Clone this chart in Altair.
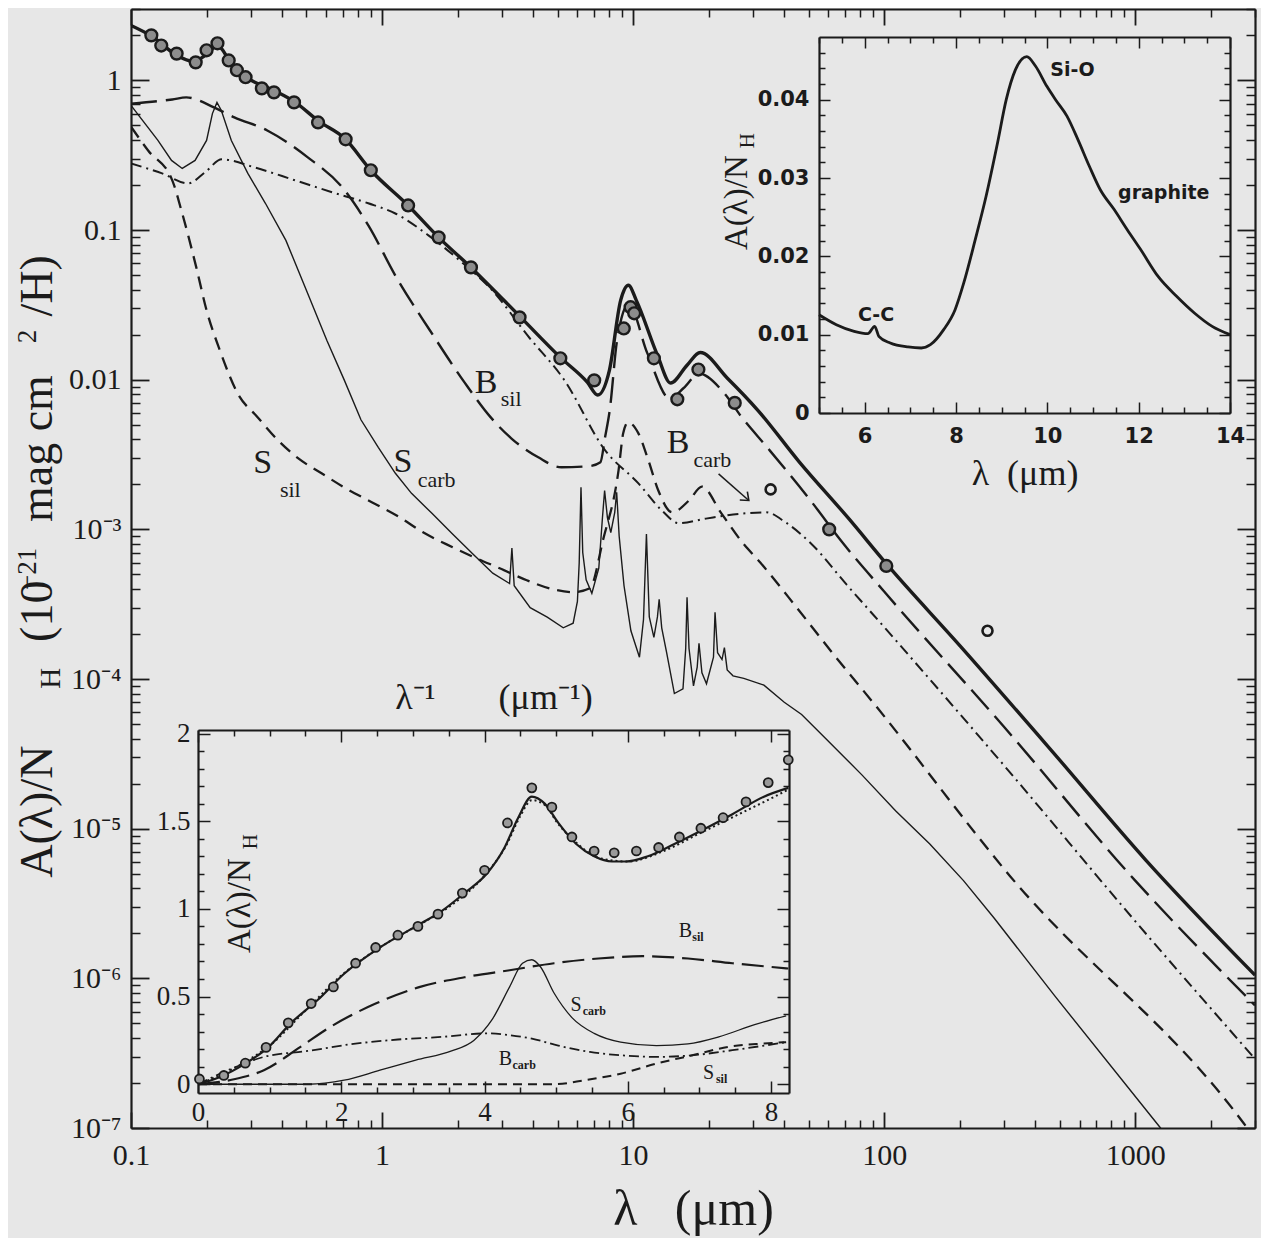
import json
import altair as alt
import pandas as pd

W, H = 1124, 1119
INK = "#1b1b1b"
BG = "#e7e7e7"
SERIF = "Liberation Serif"
SANSB = "DejaVu Sans"
NB = "\u00a0"

# ---------------- main panel: A(lambda)/N_H vs lambda ----------------
tot_lam = [0.1, 0.123, 0.152, 0.177, 0.198, 0.221, 0.247, 0.286, 0.371, 0.446, 0.561, 0.709, 0.902,
           1.27, 1.68, 2.26, 3.53, 5.13, 6.58, 7.23, 8.05, 8.92, 9.58, 10.3, 12.5, 14.1, 16.4, 18.5,
           23.8, 31.4, 45.7, 72.6, 102, 201, 466, 1104, 3000]
tot_val = [2.33, 1.94, 1.47, 1.34, 1.47, 1.71, 1.36, 1.06, 0.858, 0.724, 0.532, 0.410, 0.251,
           0.146, 0.0894, 0.0563, 0.0266, 0.0141, 0.0096, 0.0079, 0.0116, 0.0339, 0.0428, 0.0339,
           0.0146, 0.0095, 0.0125, 0.0152, 0.0102, 6.25e-3, 2.85e-3, 1.17e-3, 5.9e-4, 1.66e-4,
           3.3e-5, 6.15e-6, 1.05e-6]

bsil_lam = [0.1, 0.146, 0.166, 0.214, 0.258, 0.349, 0.506, 0.694, 0.883, 1.14, 1.55, 2.13, 2.71, 3.27,
            4.19, 5.18, 6.64, 7.41, 7.73, 8.07, 8.63, 9.6, 11.4, 14.0, 15.9, 18.3, 23.1, 26.9, 34.5,
            51.5, 68.1, 100, 300, 1000, 3000]
bsil_val = [0.70, 0.746, 0.77, 0.66, 0.566, 0.463, 0.306, 0.193, 0.107, 0.0483, 0.0214, 9.6e-3, 5.6e-3,
            4.06e-3, 3.03e-3, 2.60e-3, 2.64e-3, 2.81e-3, 4.12e-3, 6.25e-3, 0.0183, 0.032, 0.0150, 7.5e-3,
            8.8e-3, 0.0110, 8.1e-3, 5.7e-3, 3.47e-3, 1.52e-3, 8.2e-4, 3.84e-4, 4.8e-5, 4.5e-6, 6.6e-7]

bcarb_lam = [0.1, 0.133, 0.169, 0.197, 0.230, 0.311, 0.450, 0.632, 0.881, 1.13, 1.53, 2.10, 2.68, 3.87,
             5.31, 7.74, 10.5, 13.0, 15.2, 19.5, 26.4, 33.8, 40.6, 51.7, 70.9, 90.3, 300, 1000, 3000]
bcarb_val = [0.279, 0.239, 0.205, 0.243, 0.297, 0.262, 0.215, 0.179, 0.151, 0.129, 0.0922, 0.060, 0.0414,
             0.019, 0.0100, 3.37e-3, 2.03e-3, 1.34e-3, 1.10e-3, 1.18e-3, 1.27e-3, 1.30e-3, 1.11e-3,
             7.9e-4, 4.27e-4, 2.7e-4, 2.65e-5, 2.41e-6, 2.9e-7]

ssil_lam = [0.1, 0.117, 0.146, 0.160, 0.182, 0.200, 0.226, 0.266, 0.320, 0.385, 0.464, 0.574, 0.717,
            0.910, 1.17, 1.45, 1.91, 2.38, 2.94, 3.77, 4.79, 5.75, 6.73, 7.59, 8.75, 9.13, 9.55, 10.5,
            11.5, 12.6, 14.3, 16.7, 18.8, 22.4, 27.2, 32.1, 45.0, 62.9, 91.4, 318, 2700, 3000]
ssil_val = [0.49, 0.340, 0.215, 0.129, 0.0563, 0.0291, 0.0157, 8.1e-3, 5.6e-3, 3.94e-3, 2.98e-3, 2.37e-3,
            1.88e-3, 1.52e-3, 1.21e-3, 9.6e-4, 7.6e-4, 6.4e-4, 5.5e-4, 4.57e-4, 3.98e-4, 3.80e-4, 4.04e-4,
            8.5e-4, 2.48e-3, 4.38e-3, 5.19e-3, 4.38e-3, 2.9e-3, 1.82e-3, 1.30e-3, 1.56e-3, 1.93e-3,
            1.29e-3, 8.2e-4, 6.0e-4, 2.98e-4, 1.46e-4, 6.8e-5, 4.8e-6, 1.08e-7, 8.5e-8]

scarb_lam = [0.1, 0.128, 0.145, 0.160, 0.180, 0.200, 0.211, 0.220, 0.229, 0.251, 0.292, 0.343, 0.414,
             0.500, 0.603, 0.708, 0.824, 0.966, 1.13, 1.31, 1.58, 1.90, 2.29, 2.76, 3.22, 3.29, 3.36,
             3.89, 4.55, 5.27, 5.77, 6.0, 6.1, 6.2, 6.3, 6.5, 6.85, 7.3, 7.55, 7.7, 7.9, 8.15, 8.45,
             8.6, 8.8, 9.2, 9.8, 10.6, 11.0, 11.3, 11.6, 12.1, 12.5, 12.7, 13.0, 13.6, 14.6, 15.8,
             16.2, 16.4, 16.7, 17.4, 18.0, 18.3, 18.8, 19.6, 20.9, 21.2, 21.7, 22.6, 23.1, 23.7, 25.0,
             27.6, 33.2, 40.0, 46.9, 60.1, 81.7, 111, 152, 207, 274, 479, 1250, 3000]
scarb_val = [0.68, 0.397, 0.292, 0.258, 0.292, 0.397, 0.60, 0.713, 0.63, 0.397, 0.239, 0.151, 0.0853,
             0.0395, 0.0183, 9.9e-3, 5.4e-3, 3.53e-3, 2.37e-3, 1.74e-3, 1.28e-3, 9.4e-4, 6.9e-4, 5.1e-4,
             4.35e-4, 7.5e-4, 4.2e-4, 3.0e-4, 2.59e-4, 2.2e-4, 2.36e-4, 3.3e-4, 6.0e-4, 1.91e-3, 7.0e-4,
             4.6e-4, 3.74e-4, 5.5e-4, 1.2e-3, 1.82e-3, 1.2e-3, 9.5e-4, 1.3e-3, 1.77e-3, 9.0e-4, 4.2e-4,
             2.1e-4, 1.4e-4, 2.5e-4, 9.3e-4, 2.6e-4, 1.9e-4, 2.6e-4, 3.41e-4, 2.2e-4, 1.5e-4, 8.0e-5,
             8.6e-5, 1.6e-4, 3.52e-4, 1.6e-4, 9.0e-5, 1.2e-4, 1.73e-4, 1.1e-4, 9.3e-5, 1.4e-4, 2.79e-4,
             1.5e-4, 1.35e-4, 1.62e-4, 1.15e-4, 1.05e-4, 1.01e-4, 9.1e-5, 7.0e-5, 5.8e-5, 3.83e-5,
             2.28e-5, 1.32e-5, 7.9e-6, 4.5e-6, 2.53e-6, 7.6e-7, 1.02e-7, 1.4e-8]

obs_lam = [0.1205, 0.132, 0.152, 0.181, 0.200, 0.221, 0.245, 0.264, 0.286, 0.332, 0.371, 0.446, 0.556,
           0.716, 0.902, 1.27, 1.68, 2.26, 3.53, 5.13, 7.0, 9.18, 9.77, 10.1, 12.1, 15.0, 18.2, 25.4,
           60.4, 102]
obs_val = [2.0, 1.71, 1.51, 1.32, 1.59, 1.77, 1.36, 1.17, 1.05, 0.885, 0.832, 0.713, 0.524, 0.404,
           0.251, 0.146, 0.0894, 0.0563, 0.0261, 0.0139, 0.0099, 0.0220, 0.0305, 0.0278, 0.0139,
           0.0074, 0.0117, 0.0070, 1.0e-3, 5.7e-4]
obs2_lam = [35.3, 258]
obs2_val = [1.85e-3, 2.1e-4]

# curve labels (main panel)
lab_big_txt = ["B", "S", "S", "B"]
lab_big_x = [2.34, 1.11, 0.307, 13.6]
lab_big_y = [8.2e-3, 2.42e-3, 2.38e-3, 3.24e-3]
lab_sub_txt = ["sil", "carb", "sil", "carb"]
lab_sub_x = [2.97, 1.387, 0.392, 17.4]
lab_sub_y = [6.7e-3, 1.92e-3, 1.65e-3, 2.62e-3]
arrow_lam = [21.9, 28.9]
arrow_val = [2.35e-3, 1.56e-3]

# y-axis title pieces (rotated)
yt_big_txt = ["A(λ)/N", "(10", "mag cm", "/H)"]
yt_big_y = [4.7e-6, 1.77e-4, 1.12e-3, 0.0265]
yt_sub_txt = ["H"]
yt_sub_y = [8.6e-5]
yt_sup_txt = ["−21", "2"]
yt_sup_y = [3.94e-4, 0.0175]
yt_x_base, yt_x_sub, yt_x_sup = 0.0484, 0.0521, 0.0419

x_major = [0.1, 1, 10, 100, 1000]
x_major_lab = ["0.1", "1", "10", "100", "1000"]
y_major = [1e-7, 1e-6, 1e-5, 1e-4, 1e-3, 0.01, 0.1, 1]
y_major_lab = ["10⁻⁷", "10⁻⁶", "10⁻⁵", "10⁻⁴", "10⁻³", "0.01", "0.1", "1"]

# ---------------- inset 1 (top right): 5-14 um ----------------
in1_lam = [5.0, 5.38, 5.77, 6.07, 6.22, 6.31, 6.56, 6.95, 7.24, 7.44, 7.73, 7.98, 8.17, 8.42, 8.66,
           8.91, 9.10, 9.30, 9.55, 9.74, 9.99, 10.18, 10.43, 10.67, 10.92, 11.16, 11.46, 11.75, 12.04,
           12.43, 12.83, 13.22, 13.61, 14.0]
in1_val = [0.01255, 0.01128, 0.01043, 0.01013, 0.01106, 0.00979, 0.00894, 0.00843, 0.0083, 0.00872,
           0.01064, 0.01319, 0.0166, 0.0221, 0.0277, 0.0345, 0.0400, 0.0438, 0.0455, 0.0443, 0.0417,
           0.0400, 0.0379, 0.0349, 0.0315, 0.0285, 0.0260, 0.0234, 0.0209, 0.0174, 0.0149, 0.01277,
           0.01106, 0.0100]
in1_lab_txt = ["Si-O", "graphite", "C-C"]
in1_lab_x = [10.55, 12.55, 6.25]
in1_lab_y = [0.0438, 0.0281, 0.0125]
in1_x_major = [6, 8, 10, 12, 14]
in1_y_major = [0, 0.01, 0.02, 0.03, 0.04]
in1_y_lab = ["0", "0.01", "0.02", "0.03", "0.04"]

# ---------------- inset 2 (bottom left): vs 1/lambda ----------------
tot2_x = [0, 0.3, 0.67, 0.98, 1.30, 1.67, 2.04, 2.54, 3.04, 3.41, 3.72, 4.03, 4.28, 4.47, 4.66, 4.84,
          5.03, 5.28, 5.53, 5.78, 5.97, 6.28, 6.65, 7.09, 7.46, 7.90, 8.24]
tot2_y = [0, 0.04, 0.12, 0.21, 0.35, 0.48, 0.63, 0.78, 0.90, 0.99, 1.09, 1.20, 1.35, 1.52, 1.64, 1.60,
          1.49, 1.37, 1.30, 1.27, 1.27, 1.30, 1.37, 1.46, 1.54, 1.64, 1.69]
dot2_x = [0, 0.3, 0.67, 1.0, 1.5, 2.0, 2.5, 3.0, 3.5, 4.0, 4.3, 4.5, 4.66, 4.85, 5.0, 5.3, 5.6, 6.0,
          6.5, 7.0, 7.5, 8.0, 8.24]
dot2_y = [0, 0.05, 0.13, 0.22, 0.42, 0.62, 0.77, 0.89, 1.01, 1.19, 1.36, 1.53, 1.62, 1.59, 1.50, 1.37,
          1.29, 1.27, 1.33, 1.43, 1.53, 1.63, 1.68]
obs2_x = [0.02, 0.36, 0.66, 0.95, 1.26, 1.58, 1.89, 2.20, 2.48, 2.79, 3.07, 3.35, 3.69, 4.00, 4.32,
          4.66, 4.94, 5.22, 5.53, 5.81, 6.12, 6.43, 6.72, 7.02, 7.33, 7.65, 7.96, 8.24]
obs2_y = [0.03, 0.05, 0.12, 0.21, 0.35, 0.46, 0.555, 0.69, 0.78, 0.85, 0.90, 0.97, 1.09, 1.22, 1.49,
          1.69, 1.58, 1.41, 1.33, 1.32, 1.33, 1.35, 1.41, 1.46, 1.52, 1.61, 1.72, 1.85]
bsil2_x = [0, 0.3, 0.52, 0.92, 1.42, 1.86, 2.48, 3.10, 3.72, 4.35, 4.97, 5.59, 6.21, 6.84, 7.46, 8.24]
bsil2_y = [0, 0.013, 0.03, 0.08, 0.21, 0.33, 0.46, 0.555, 0.61, 0.65, 0.69, 0.717, 0.73, 0.717, 0.69,
           0.66]
scarb2_x = [0, 1.54, 2.04, 2.54, 3.04, 3.54, 3.85, 4.10, 4.35, 4.53, 4.66, 4.78, 4.97, 5.22, 5.53, 5.90,
            6.40, 6.84, 7.27, 7.77, 8.21]
scarb2_y = [0, 0, 0.023, 0.08, 0.137, 0.19, 0.25, 0.365, 0.555, 0.69, 0.71, 0.67, 0.52, 0.38, 0.29,
            0.24, 0.22, 0.23, 0.27, 0.34, 0.39]
bcarb2_x = [0, 0.42, 0.92, 1.54, 2.17, 2.79, 3.41, 4.03, 4.35, 4.66, 5.03, 5.47, 5.90, 6.40, 6.90, 7.46,
            7.90, 8.21]
bcarb2_y = [0, 0.08, 0.156, 0.19, 0.23, 0.255, 0.27, 0.29, 0.28, 0.26, 0.22, 0.184, 0.165, 0.156,
            0.165, 0.194, 0.22, 0.24]
ssil2_x = [0, 4.97, 5.40, 5.90, 6.40, 6.90, 7.40, 7.90, 8.21]
ssil2_y = [0, 0, 0.023, 0.06, 0.118, 0.165, 0.213, 0.232, 0.24]
in2_big_txt = ["B", "S", "B", "S"]
in2_big_x = [6.71, 5.2, 4.2, 7.05]
in2_big_y = [0.84, 0.42, 0.11, 0.03]
in2_sub_txt = ["sil", "carb", "carb", "sil"]
in2_sub_x = [6.90, 5.37, 4.39, 7.23]
in2_sub_y = [0.815, 0.395, 0.085, 0.005]
in2_x_major = [0, 2, 4, 6, 8]
in2_y_major = [0, 0.5, 1, 1.5, 2]
in2_y_lab = ["0", "0.5", "1", "1.5", "2"]

# ---------------- scales ----------------
MXS = alt.Scale(type="log", domain=[0.1, 3000], nice=False)
MYS = alt.Scale(type="log", domain=[1e-7, 3], nice=False)
I1L, I1R, I1T, I1B = 688, 1099, 28, 404
I1XS = alt.Scale(domain=[5, 14], range=[I1L, I1R], nice=False, zero=False)
I1YS = alt.Scale(domain=[0, 0.048], range=[I1B, I1T], nice=False, zero=False)
I2L, I2R, I2T, I2B = 67, 658, 721, 1084
I2XS = alt.Scale(domain=[0, 8.25], range=[I2L, I2R], nice=False, zero=False)
I2YS = alt.Scale(domain=[-0.05, 2.02], range=[I2B, I2T], nice=False, zero=False)


def enc(xs, ys):
    return dict(x=alt.X("x:Q", scale=xs, axis=None), y=alt.Y("y:Q", scale=ys, axis=None))


def line(xv, yv, xs, ys, width, dash=None, interp="monotone"):
    df = pd.DataFrame({"x": xv, "y": yv, "i": list(range(len(xv)))})
    kw = dict(color=INK, strokeWidth=width, clip=True, interpolate=interp, strokeCap="butt")
    if dash:
        kw["strokeDash"] = dash
    return alt.Chart(df).mark_line(**kw).encode(order="i:Q", **enc(xs, ys))


def pts(xv, yv, xs, ys, size, fill, sw):
    df = pd.DataFrame({"x": xv, "y": yv})
    return alt.Chart(df).mark_point(shape="circle", filled=True, fill=fill, stroke=INK,
                                    strokeWidth=sw, size=size, opacity=1).encode(**enc(xs, ys))


def texts(tv, xv, yv, xs, ys, size, font=SERIF, angle=0, weight="normal", align="left",
          baseline="alphabetic"):
    df = pd.DataFrame({"t": tv, "x": xv, "y": yv})
    return alt.Chart(df).mark_text(font=font, fontSize=size, angle=angle, fontWeight=weight,
                                   align=align, baseline=baseline, color=INK).encode(
        text="t:N", **enc(xs, ys))


def ax(orient, offset, values, tick=0, labels=False, domain=False, tw=1.5, **kw):
    d = dict(orient=orient, offset=offset, values=values, grid=False, labels=labels, domain=domain,
             title=None, domainColor=INK, domainWidth=2.2, labelColor=INK, labelOverlap=False,
             labelFlush=False)
    if tick > 0:
        d.update(ticks=True, tickSize=tick, tickWidth=tw, tickColor=INK)
    else:
        d.update(ticks=False)
    d.update(kw)
    return alt.Axis(**d)


def axis_layer(xs, ys, x0, y0, xaxis, yaxis):
    df = pd.DataFrame({"x": [x0], "y": [y0]})
    return alt.Chart(df).mark_point(opacity=0).encode(
        x=alt.X("x:Q", scale=xs, axis=xaxis), y=alt.Y("y:Q", scale=ys, axis=yaxis))


def minors(decades, ks, lo, hi):
    return [k * 10 ** d for d in decades for k in ks if lo < k * 10 ** d < hi]


x_minor = minors(range(-1, 4), range(2, 10), 0.1, 3001)
y_minor = minors(range(-7, 1), range(2, 10), 1e-7, 3.01)
xlab_expr = json.dumps(x_major_lab, ensure_ascii=False) + "[round(log(datum.value)/LN10)+1]"
ylab_expr = json.dumps(y_major_lab, ensure_ascii=False) + "[round(log(datum.value)/LN10)+7]"

layers = []
# ---- main axes / frame ----
layers.append(axis_layer(MXS, MYS, 1, 1,
    ax("bottom", 0, x_major, labels=True, domain=True, labelExpr=xlab_expr, labelFont=SERIF,
       labelFontSize=30, labelPadding=12, title="λ" + NB * 3 + "(μm)", titleFont=SERIF,
       titleFontSize=50, titleFontWeight="normal", titleColor=INK, titlePadding=14),
    ax("left", 0, y_major, labels=True, domain=True, labelExpr=ylab_expr, labelFont=SERIF,
       labelFontSize=30, labelPadding=10)))
layers.append(axis_layer(MXS, MYS, 1, 1, ax("top", -H, x_major, tick=16, tw=1.8),
                         ax("right", -W, y_major, tick=18, tw=1.8)))
layers.append(axis_layer(MXS, MYS, 1, 1, ax("top", -H, x_minor, tick=8),
                         ax("right", -W, y_minor, tick=9)))
layers.append(axis_layer(MXS, MYS, 1, 1, ax("bottom", -H, x_major, tick=16, domain=True, tw=1.8),
                         ax("left", -W, y_major, tick=18, domain=True, tw=1.8)))
layers.append(axis_layer(MXS, MYS, 1, 1, ax("bottom", -H, x_minor, tick=8),
                         ax("left", -W, y_minor, tick=9)))

# ---- main curves ----
layers.append(line(ssil_lam, ssil_val, MXS, MYS, 2.3, dash=[13, 8]))
layers.append(line(bcarb_lam, bcarb_val, MXS, MYS, 2.0, dash=[11, 5, 2, 5]))
layers.append(line(bsil_lam, bsil_val, MXS, MYS, 2.4, dash=[26, 9]))
layers.append(line(scarb_lam, scarb_val, MXS, MYS, 1.4, interp="linear"))
layers.append(line(tot_lam, tot_val, MXS, MYS, 3.4))
layers.append(pts(obs_lam, obs_val, MXS, MYS, 140, "#8c8c8c", 2.4))
layers.append(pts(obs2_lam, obs2_val, MXS, MYS, 100, BG, 2.6))
layers.append(line(arrow_lam, arrow_val, MXS, MYS, 1.5, interp="linear"))
layers.append(alt.Chart(pd.DataFrame({"x": arrow_lam[1:], "y": arrow_val[1:]})).mark_point(
    shape="M-1,-0.8L0,0L-1,0.8", filled=False, stroke=INK, strokeWidth=1.6, size=200, angle=42,
    opacity=1).encode(**enc(MXS, MYS)))
layers.append(texts(lab_big_txt, lab_big_x, lab_big_y, MXS, MYS, 34))
layers.append(texts(lab_sub_txt, lab_sub_x, lab_sub_y, MXS, MYS, 22))
# y title (rotated pieces)
layers.append(texts(yt_big_txt, [yt_x_base] * len(yt_big_txt), yt_big_y, MXS, MYS, 46, angle=270))
layers.append(texts(yt_sub_txt, [yt_x_sub] * len(yt_sub_txt), yt_sub_y, MXS, MYS, 29, angle=270))
layers.append(texts(yt_sup_txt, [yt_x_sup] * len(yt_sup_txt), yt_sup_y, MXS, MYS, 27, angle=270))

# ---- inset 1 ----
i1_xmin = [v / 2 for v in range(10, 29) if v / 2 not in in1_x_major]
i1_ymin = [round(v * 0.002, 3) for v in range(1, 24) if v % 5 != 0]
i1_ylab = json.dumps(in1_y_lab) + "[round(datum.value*100)]"
layers.append(axis_layer(I1XS, I1YS, 6, 0.01,
    ax("bottom", I1B - H, in1_x_major, labels=True, domain=True, labelFont=SANSB, labelFontSize=21,
       labelFontWeight="bold", labelPadding=12, title="λ" + NB * 2 + "(μm)", titleFont=SERIF,
       titleFontSize=36, titleFontWeight="normal", titleColor=INK, titlePadding=10),
    ax("left", -I1L, in1_y_major, labels=True, domain=True, labelExpr=i1_ylab, labelFont=SANSB,
       labelFontSize=21, labelFontWeight="bold", labelPadding=10)))
layers.append(axis_layer(I1XS, I1YS, 6, 0.01, ax("top", -I1B, in1_x_major, tick=11),
                         ax("right", I1L - W, in1_y_major, tick=11)))
layers.append(axis_layer(I1XS, I1YS, 6, 0.01, ax("top", -I1B, i1_xmin, tick=6),
                         ax("right", I1L - W, i1_ymin, tick=6)))
layers.append(axis_layer(I1XS, I1YS, 6, 0.01, ax("bottom", I1T - H, in1_x_major, tick=11, domain=True),
                         ax("left", -I1R, in1_y_major, tick=11, domain=True)))
layers.append(axis_layer(I1XS, I1YS, 6, 0.01, ax("bottom", I1T - H, i1_xmin, tick=6),
                         ax("left", -I1R, i1_ymin, tick=6)))
layers.append(line(in1_lam, in1_val, I1XS, I1YS, 2.8))
layers.append(texts(in1_lab_txt, in1_lab_x, in1_lab_y, I1XS, I1YS, 19, font=SANSB, weight="bold",
                    align="center", baseline="middle"))
layers.append(texts(["A(λ)/N"], [3.42], [0.0208], I1XS, I1YS, 33, angle=270))
layers.append(texts(["H"], [3.58], [0.0338], I1XS, I1YS, 21, angle=270))

# ---- inset 2 ----
i2_xmin = [v / 2 for v in range(1, 17) if v % 4 != 0]
i2_ymin = [round(v * 0.1, 1) for v in range(1, 20) if v % 5 != 0]
i2_ylab = json.dumps(in2_y_lab) + "[round(datum.value*2)]"
layers.append(axis_layer(I2XS, I2YS, 1, 1,
    ax("bottom", I2B - H, in2_x_major, labels=True, domain=True, labelFont=SERIF, labelFontSize=27,
       labelPadding=6),
    ax("left", -I2L, in2_y_major, labels=True, domain=True, labelExpr=i2_ylab, labelFont=SERIF,
       labelFontSize=27, labelPadding=8)))
layers.append(axis_layer(I2XS, I2YS, 1, 1, ax("top", -I2B, in2_x_major, tick=12),
                         ax("right", I2L - W, in2_y_major, tick=12)))
layers.append(axis_layer(I2XS, I2YS, 1, 1, ax("top", -I2B, i2_xmin, tick=6),
                         ax("right", I2L - W, i2_ymin, tick=6)))
layers.append(axis_layer(I2XS, I2YS, 1, 1, ax("bottom", I2T - H, in2_x_major, tick=12, domain=True),
                         ax("left", -I2R, in2_y_major, tick=12, domain=True)))
layers.append(axis_layer(I2XS, I2YS, 1, 1, ax("bottom", I2T - H, i2_xmin, tick=6),
                         ax("left", -I2R, i2_ymin, tick=6)))
layers.append(axis_layer(I2XS, I2YS, 1, 1,
    ax("top", -I2T, in2_x_major, title="λ⁻¹" + NB * 7 + "(μm⁻¹)", titleFont=SERIF,
       titleFontSize=36, titleFontWeight="normal", titleColor=INK, titlePadding=14),
    ax("right", I2L - W, in2_y_major)))
layers.append(line(ssil2_x, ssil2_y, I2XS, I2YS, 2.0, dash=[9, 6]))
layers.append(line(bcarb2_x, bcarb2_y, I2XS, I2YS, 1.8, dash=[10, 4, 2, 4]))
layers.append(line(bsil2_x, bsil2_y, I2XS, I2YS, 2.2, dash=[22, 8]))
layers.append(line(scarb2_x, scarb2_y, I2XS, I2YS, 1.3))
layers.append(line(tot2_x, tot2_y, I2XS, I2YS, 2.2))
layers.append(line(dot2_x, dot2_y, I2XS, I2YS, 2.0, dash=[2, 3]))
layers.append(pts(obs2_x, obs2_y, I2XS, I2YS, 80, "#9a9a9a", 1.8))
layers.append(texts(in2_big_txt, in2_big_x, in2_big_y, I2XS, I2YS, 20))
layers.append(texts(in2_sub_txt, in2_sub_x, in2_sub_y, I2XS, I2YS, 12, weight="bold"))
layers.append(texts(["A(λ)/N"], [0.726], [0.748], I2XS, I2YS, 33, angle=270))
layers.append(texts(["H"], [0.824], [1.34], I2XS, I2YS, 21, angle=270))

chart = alt.layer(*layers).resolve_scale(x="independent", y="independent").resolve_axis(
    x="independent", y="independent").properties(
    width=W, height=H, autosize=alt.AutoSizeParams(type="none"),
    padding={"left": 123, "top": 1, "right": 6, "bottom": 110}, background=BG
).configure_view(strokeWidth=0)

chart.save("out.html", embed_options={"renderer": "svg", "actions": False})
